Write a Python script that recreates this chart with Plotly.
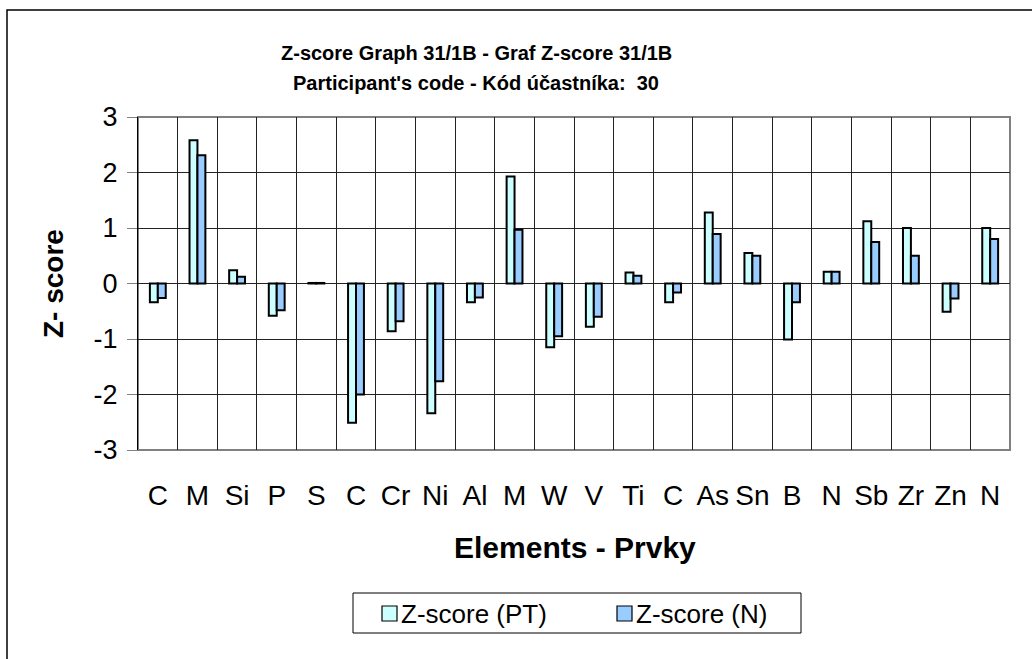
import plotly.graph_objects as go

elements = ["C", "M", "Si", "P", "S", "C", "Cr", "Ni", "Al", "M", "W", "V",
            "Ti", "C", "As", "Sn", "B", "N", "Sb", "Zr", "Zn", "N"]
z_pt = [-0.34, 2.58, 0.24, -0.58, 0.01, -2.51, -0.86, -2.34, -0.34, 1.93, -1.15,
        -0.78, 0.20, -0.34, 1.28, 0.55, -1.01, 0.21, 1.12, 1.00, -0.51, 1.00]
z_n = [-0.26, 2.31, 0.12, -0.48, 0.01, -2.00, -0.68, -1.76, -0.25, 0.97, -0.95,
       -0.60, 0.14, -0.16, 0.89, 0.50, -0.34, 0.21, 0.75, 0.50, -0.27, 0.80]
y_ticks = [-3, -2, -1, 0, 1, 2, 3]
y_ticktext = ["-3", "-2", "-1", "0", "1", "2", "3"]
series_names = ["Z-score (PT)", "Z-score (N)"]
series_colors = ["#CCFFFF", "#99CCFF"]

FONT = "Arial, 'Liberation Sans', sans-serif"
pos = list(range(len(elements)))

fig = go.Figure()
for vals, name, col in zip([z_pt, z_n], series_names, series_colors):
    fig.add_trace(go.Bar(x=pos, y=vals, name=name, showlegend=False,
                         marker=dict(color=col, line=dict(color="black", width=2))))

L, R, T, B = 138, 22, 117, 209
W, H = 1032, 659
pw, ph = W - L - R, H - T - B

def px(xp):
    return (xp - L) / pw

def py(yp):
    return (H - B - yp) / ph

fig.update_layout(
    width=W, height=H,
    margin=dict(l=L, r=R, t=T, b=B),
    paper_bgcolor="white", plot_bgcolor="white",
    barmode="group", bargap=0.6, bargroupgap=0.0,
    font=dict(family=FONT, color="black"),
    showlegend=False,
    xaxis=dict(range=[-0.5, len(elements) - 0.5], tickmode="array", tickvals=pos,
               ticktext=elements, showgrid=False, zeroline=False,
               tickfont=dict(size=28), ticks="", ticklabelstandoff=26,
               showline=False,
               minor=dict(tickmode="array", tickvals=[i - 0.5 for i in range(len(elements) + 1)],
                          showgrid=True, gridcolor="#222222", gridwidth=1, ticks="")),
    yaxis=dict(range=[-3, 3], tickmode="array", tickvals=y_ticks, ticktext=y_ticktext,
               showgrid=True, gridcolor="#222222", gridwidth=1,
               zeroline=True, zerolinecolor="#222222", zerolinewidth=1,
               tickfont=dict(size=27), ticks="outside", ticklen=10, tickcolor="#808080",
               showline=True, linecolor="black", linewidth=1, ticklabelstandoff=4),
)

shapes = [
    dict(type="rect", xref="paper", yref="paper", x0=0, x1=1, y0=0, y1=1,
         line=dict(color="#808080", width=2), layer="below"),
    dict(type="path", xref="paper", yref="paper",
         path=f"M {px(7)} {py(700)} L {px(7)} {py(10)} L {px(1100)} {py(10)}",
         line=dict(color="black", width=1.5)),
    # legend box
    dict(type="rect", xref="paper", yref="paper", x0=px(353), x1=px(801), y0=py(633), y1=py(593),
         line=dict(color="black", width=1), fillcolor="white"),
]

annotations = [
    dict(text="<b>Z-score Graph 31/1B - Graf Z-score 31/1B</b>", x=px(476), y=py(53),
         xref="paper", yref="paper", showarrow=False, xanchor="center", yanchor="middle",
         font=dict(size=20, family=FONT)),
    dict(text="<b>Participant's code - Kód účastníka:  30</b>", x=px(476), y=py(83),
         xref="paper", yref="paper", showarrow=False, xanchor="center", yanchor="middle",
         font=dict(size=20, family=FONT)),
    dict(text="<b>Elements - Prvky</b>", x=px(575), y=py(547),
         xref="paper", yref="paper", showarrow=False, xanchor="center", yanchor="middle",
         font=dict(size=30, family=FONT)),
    dict(text="<b>Z- score</b>", x=px(53), y=py(284), textangle=-90,
         xref="paper", yref="paper", showarrow=False, xanchor="center", yanchor="middle",
         font=dict(size=28, family=FONT)),
]

# legend entries (swatch + text)
legend_x = [382, 617]
for lx, name, col in zip(legend_x, series_names, series_colors):
    shapes.append(dict(type="rect", xref="paper", yref="paper",
                       x0=px(lx), x1=px(lx + 15), y0=py(621), y1=py(606),
                       line=dict(color="black", width=1.2), fillcolor=col))
    annotations.append(dict(text=name, x=px(lx + 17), y=py(614), xref="paper", yref="paper",
                            showarrow=False, xanchor="left", yanchor="middle",
                            font=dict(size=26, family=FONT)))

fig.update_layout(shapes=shapes, annotations=annotations)

fig.write_html("out.html", config={"displayModeBar": False},
               post_script="document.body.style.margin='0px';document.body.style.overflow='hidden';")
